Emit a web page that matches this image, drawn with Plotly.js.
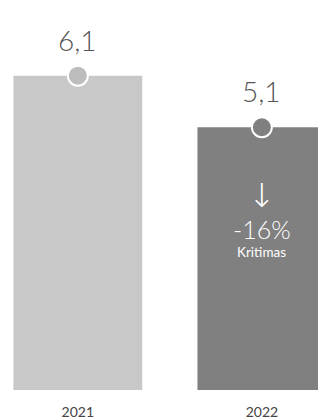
<!DOCTYPE html>
<html>
<head>
<meta charset="utf-8">
<script src="https://cdn.plot.ly/plotly-3.0.1.min.js"></script>
<style>html,body{margin:0;padding:0;background:#fff;}#chart{width:318px;height:420px;}</style>
</head>
<body>
<div id="chart"></div>
<script>
const years = ["2021", "2022"];
const values = [6.1, 5.1];
const valueLabels = ["6,1", "5,1"];
const barColors = ["#c8c8c8", "#808080"];
const dotColors = ["#bdbdbd", "#808080"];
const changeLabel = "-16%";
const changeNote = "Kritimas";
const arrow = "↓";

const bars = {
  type: "bar", x: years, y: values,
  marker: {color: barColors},
  hoverinfo: "none"
};
const dots = {
  type: "scatter", mode: "markers", x: years, y: values,
  marker: {size: 20, color: dotColors, line: {color: "#ffffff", width: 2}},
  hoverinfo: "none", cliponaxis: false
};

const light = "'Lato Light', 'Noto Sans Light', Lato, sans-serif";
const font = "Lato, 'Open Sans', sans-serif";
const annotations = years.map((yr, i) => ({
  x: i, y: values[i], xref: "x", yref: "y",
  text: valueLabels[i], showarrow: false, borderpad: 0,
  yanchor: "middle", yshift: 36,
  font: {family: light, weight: 300, size: 28, color: "#555555"}
}));
annotations.push(
  {x: 1, y: 3.78, xref: "x", yref: "y", text: arrow, showarrow: false, yanchor: "middle", borderpad: 0,
   font: {family: "'DejaVu Sans ExtraLight', 'DejaVu Sans', sans-serif", weight: 200, size: 33, color: "#ffffff"}},
  {x: 1, y: 3.12, xref: "x", yref: "y", text: changeLabel, showarrow: false, yanchor: "middle", borderpad: 0,
   font: {family: light, weight: 300, size: 25, color: "#ffffff"}},
  {x: 1, y: 2.68, xref: "x", yref: "y", text: changeNote, showarrow: false, yanchor: "middle", borderpad: 0,
   font: {family: font, size: 13.5, color: "#ffffff"}}
);

const layout = {
  width: 318, height: 420,
  margin: {l: 0, r: 0, t: 0, b: 30},
  paper_bgcolor: "#ffffff", plot_bgcolor: "#ffffff",
  showlegend: false, bargap: 0.3,
  xaxis: {type: "category", range: [-0.423, 1.305], showgrid: false, zeroline: false,
          showline: false, ticks: "", ticklabelstandoff: 12,
          tickfont: {family: font, size: 14, color: "#444444"}},
  yaxis: {range: [0, 7.57], visible: false},
  annotations: annotations
};

Plotly.newPlot("chart", [bars, dots], layout, {displayModeBar: false, staticPlot: true});
</script>
</body>
</html>
